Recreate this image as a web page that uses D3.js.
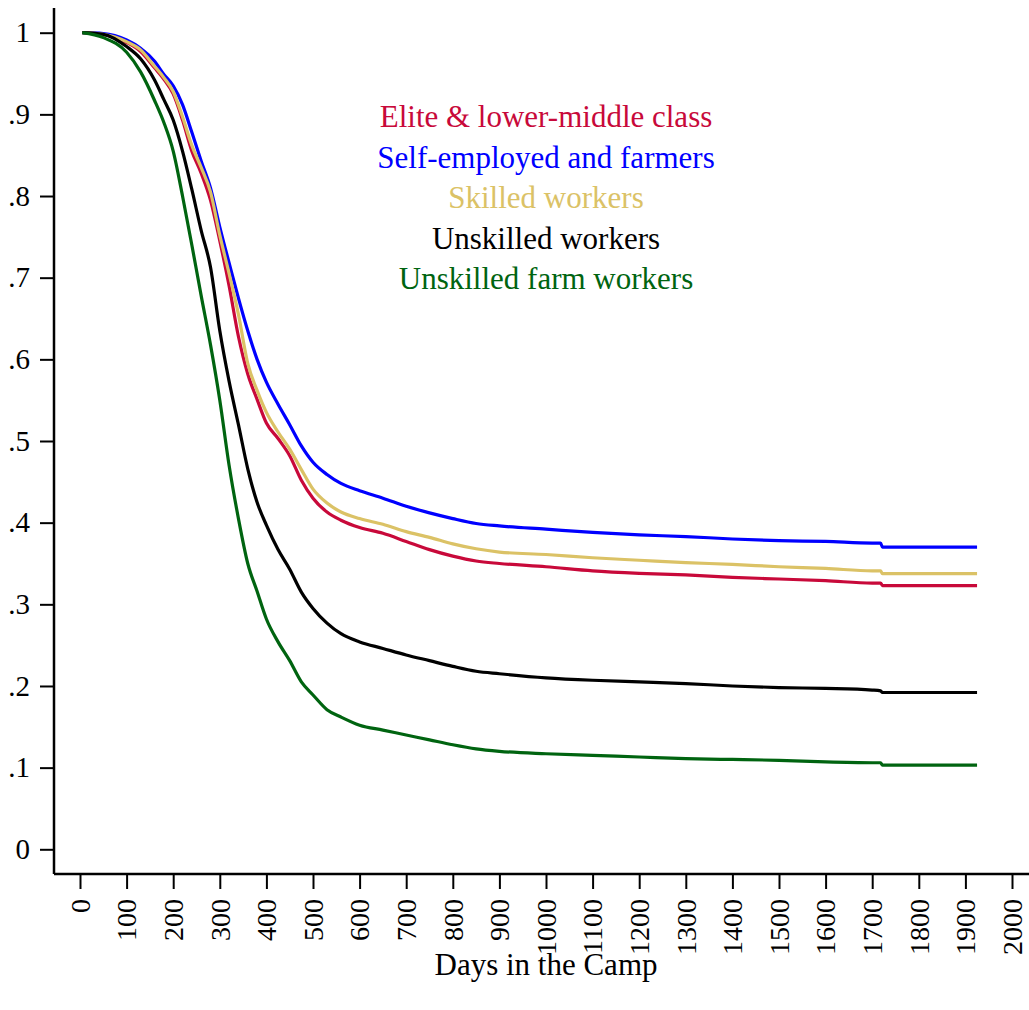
<!DOCTYPE html>
<html>
<head>
<meta charset="utf-8">
<script src="https://cdn.jsdelivr.net/npm/d3@7"></script>
<style>
	body { margin: 0; background: #fff; }
	text { font-family: "Liberation Serif", "Times New Roman", serif; }
</style>
</head>
<body>
<div id="chart"></div>
<script>
// data
var days = [ 5, 50, 100, 130, 160, 180, 200, 220, 240, 260, 280, 300, 320, 340, 360, 380, 400, 425, 450, 475, 500, 530, 560, 600, 650, 700, 750, 800, 850, 900, 1000, 1100, 1200, 1300, 1400, 1500, 1600, 1700, 1718, 1722, 1925 ];

var elite = [ 1, 0.998, 0.988, 0.977, 0.957, 0.943, 0.925, 0.893, 0.855, 0.828, 0.795, 0.745, 0.69, 0.628, 0.582, 0.551, 0.522, 0.503, 0.482, 0.452, 0.43, 0.413, 0.403, 0.394, 0.387, 0.377, 0.367, 0.359, 0.353, 0.35, 0.346, 0.341, 0.338, 0.336, 0.333, 0.331, 0.329, 0.326, 0.326, 0.323, 0.323 ];
var selfEmployed = [ 1, 0.999, 0.991, 0.981, 0.965, 0.949, 0.935, 0.912, 0.878, 0.843, 0.81, 0.762, 0.718, 0.675, 0.635, 0.6, 0.572, 0.545, 0.52, 0.494, 0.474, 0.459, 0.448, 0.439, 0.43, 0.42, 0.412, 0.405, 0.399, 0.396, 0.392, 0.388, 0.385, 0.383, 0.38, 0.378, 0.377, 0.375, 0.375, 0.37, 0.37 ];
var skilled = [ 1, 0.998, 0.989, 0.979, 0.959, 0.945, 0.928, 0.897, 0.862, 0.835, 0.805, 0.752, 0.705, 0.655, 0.595, 0.562, 0.535, 0.511, 0.49, 0.465, 0.441, 0.424, 0.413, 0.405, 0.398, 0.389, 0.382, 0.374, 0.368, 0.364, 0.361, 0.357, 0.354, 0.351, 0.349, 0.346, 0.344, 0.341, 0.341, 0.3375, 0.3375 ];
var unskilled = [ 1, 0.998, 0.983, 0.968, 0.942, 0.918, 0.893, 0.855, 0.808, 0.758, 0.713, 0.635, 0.573, 0.52, 0.466, 0.425, 0.397, 0.367, 0.343, 0.315, 0.295, 0.277, 0.264, 0.254, 0.246, 0.238, 0.231, 0.224, 0.218, 0.215, 0.21, 0.207, 0.205, 0.203, 0.2, 0.198, 0.197, 0.195, 0.194, 0.192, 0.192 ];
var farmWorkers = [ 1, 0.994, 0.976, 0.952, 0.917, 0.89, 0.855, 0.8, 0.74, 0.678, 0.618, 0.55, 0.47, 0.405, 0.35, 0.316, 0.282, 0.254, 0.231, 0.205, 0.189, 0.171, 0.162, 0.152, 0.146, 0.14, 0.134, 0.128, 0.123, 0.12, 0.117, 0.115, 0.113, 0.111, 0.11, 0.109, 0.107, 0.106, 0.106, 0.103, 0.103 ];

var seriesNames = [ "Elite & lower-middle class", "Self-employed and farmers", "Skilled workers", "Unskilled workers", "Unskilled farm workers" ];
var seriesValues = [ elite, selfEmployed, skilled, unskilled, farmWorkers ];
var seriesColors = [ "#c8093a", "#0000ff", "#dbc266", "#000000", "#006410" ];

var xTicks = d3.range( 0, 2001, 100 );
var yTicks = [ 0, 0.1, 0.2, 0.3, 0.4, 0.5, 0.6, 0.7, 0.8, 0.9, 1 ];
var xTitle = "Days in the Camp";

// set the dimensions and margins of the graph
var margin = {
		top: 8,
		right: 0,
		bottom: 136,
		left: 54
	},
	width = 1029 - margin.left - margin.right,
	height = 1010 - margin.top - margin.bottom;

var x = d3.scaleLinear()
	.domain( [ 0, 2000 ] )
	.range( [ 26, 958 ] );

var y = d3.scaleLinear()
	.domain( [ 0, 1 ] )
	.range( [ 841.3, 24.7 ] );

var svg = d3.select( "#chart" )
	.append( "svg" )
	.attr( "width", width + margin.left + margin.right )
	.attr( "height", height + margin.top + margin.bottom );

var g = svg.append( "g" )
	.attr( "transform", "translate(" + margin.left + "," + margin.top + ")" );

// y axis
var yAxis = d3.axisLeft( y )
	.tickValues( yTicks )
	.tickSize( 14 )
	.tickPadding( 10 )
	.tickFormat( function( d ) {
		if( d === 0 ) return "0";
		if( d === 1 ) return "1";
		return d3.format( ".1f" )( d ).replace( "0.", "." );
	} );

var gy = g.append( "g" )
	.attr( "class", "y axis" )
	.call( yAxis );
gy.select( ".domain" ).remove();
gy.selectAll( "line" ).attr( "stroke", "#000" ).attr( "stroke-width", 2 );
gy.selectAll( "text" )
	.style( "font-size", "29px" )
	.attr( "fill", "#000" );

g.append( "line" )
	.attr( "x1", 0 ).attr( "x2", 0 )
	.attr( "y1", 0 ).attr( "y2", height )
	.attr( "stroke", "#000" )
	.attr( "stroke-width", 2.5 );

// x axis
var xAxis = d3.axisBottom( x )
	.tickValues( xTicks )
	.tickSize( 15 )
	.tickFormat( d3.format( "d" ) );

var gx = g.append( "g" )
	.attr( "class", "x axis" )
	.attr( "transform", "translate(0," + height + ")" )
	.call( xAxis );
gx.select( ".domain" ).remove();
gx.selectAll( "line" ).attr( "stroke", "#000" ).attr( "stroke-width", 2 );
gx.selectAll( "text" )
	.style( "font-size", "28px" )
	.attr( "fill", "#000" )
	.style( "text-anchor", "end" )
	.attr( "dx", 0 )
	.attr( "dy", "0.33em" )
	.attr( "x", -25 )
	.attr( "y", 0 )
	.attr( "transform", "rotate(-90)" );

g.append( "line" )
	.attr( "x1", 0 ).attr( "x2", width )
	.attr( "y1", height ).attr( "y2", height )
	.attr( "stroke", "#000" )
	.attr( "stroke-width", 2.5 );

g.append( "text" )
	.attr( "x", x( 1000 ) )
	.attr( "y", height + 101 )
	.attr( "text-anchor", "middle" )
	.style( "font-size", "31px" )
	.text( xTitle );

// survival lines
var line = d3.line()
	.curve( d3.curveMonotoneX )
	.x( function( d ) { return x( d.day ); } )
	.y( function( d ) { return y( d.value ); } );

seriesValues.forEach( function( vals, i ) {
	var pts = days.map( function( d, j ) {
		return { day: d, value: vals[ j ] };
	} );
	g.append( "path" )
		.datum( pts )
		.attr( "fill", "none" )
		.attr( "stroke", seriesColors[ i ] )
		.attr( "stroke-width", 3.2 )
		.attr( "stroke-linejoin", "round" )
		.attr( "d", line );
} );

// legend
g.selectAll( ".legend" )
	.data( seriesNames )
	.enter()
	.append( "text" )
	.attr( "class", "legend" )
	.attr( "x", 492 )
	.attr( "y", function( d, i ) { return 119 + i * 40.6; } )
	.attr( "text-anchor", "middle" )
	.style( "font-size", "31px" )
	.attr( "fill", function( d, i ) { return seriesColors[ i ]; } )
	.text( function( d ) { return d; } );
</script>
</body>
</html>
